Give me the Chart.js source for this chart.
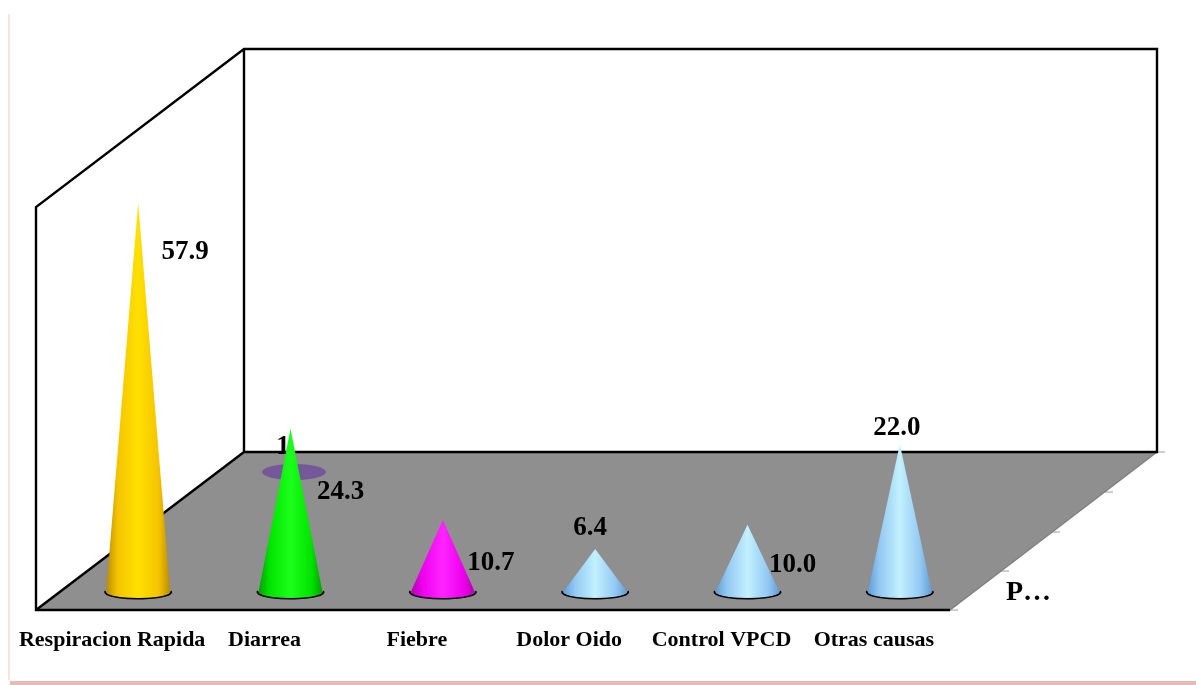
<!DOCTYPE html>
<html>
<head>
<meta charset="utf-8">
<title>Motivos de consulta</title>
<script src="https://cdn.jsdelivr.net/npm/chart.js@4"></script>
<style>
    html, body { margin: 0; padding: 0; background: #fff; overflow: hidden; }
    canvas { display: block; }
</style>
</head>
<body>
<canvas id="myChart" width="1196" height="685"></canvas>
<script>
const categories = ["Respiracion Rapida", "Diarrea", "Fiebre", "Dolor Oido", "Control VPCD", "Otras causas"];
const values = [57.9, 24.3, 10.7, 6.4, 10.0, 22.0];
const seriesName = "P…";

// edge / body / centre colour of each cone
const coneEdges = ["#b88c00", "#00a000", "#b000b0", "#5f9cd8", "#5f9cd8", "#5f9cd8"];
const coneBodies = ["#f5c400", "#00e400", "#ee00ee", "#93c8f2", "#93c8f2", "#93c8f2"];
const coneCentres = ["#ffe000", "#1cff1c", "#ff24ff", "#c2f0ff", "#c2f0ff", "#c2f0ff"];

// where each value label sits, measured from the cone's tip
const labelOffsets = [[47, 49], [50, 63], [48, 43], [-5, -21], [45, 40], [-3, -16]];

const serif = "'Liberation Serif', serif";

const ctx = document.getElementById("myChart").getContext("2d");

function polygon(c, pts) {
    c.beginPath();
    pts.forEach((p, i) => i ? c.lineTo(p[0], p[1]) : c.moveTo(p[0], p[1]));
    c.closePath();
}

// page border, walls and floor of the 3D box
const boxPlugin = {
    id: "box",
    beforeDatasetsDraw(chart) {
        const c = chart.ctx;
        c.save();
        c.fillStyle = "#f7e4e4";
        c.fillRect(8, 14, 2, 666);
        c.fillStyle = "#e8b9b9";
        c.fillRect(10, 681, 1186, 4);

        polygon(c, [[36, 610], [244, 452], [1157, 452], [950, 610]]);
        c.fillStyle = "#8f8f8f";
        c.fill();

        // faint ticks on the depth axis
        c.strokeStyle = "#9a9a9a";
        c.lineWidth = 1;
        [[1157, 452], [1105, 492], [1052, 532], [1001, 571], [950, 610]].forEach((p) => {
            c.beginPath();
            c.moveTo(p[0], p[1]);
            c.lineTo(p[0] + 8, p[1]);
            c.stroke();
        });
        c.strokeStyle = "#7f7f7f";
        c.lineWidth = 1.5;
        c.beginPath();
        c.moveTo(950, 610);
        c.lineTo(1157, 452);
        c.stroke();

        c.strokeStyle = "#000";
        c.lineWidth = 2.4;
        c.lineJoin = "miter";
        c.beginPath();
        c.moveTo(950, 610);
        c.lineTo(36, 610);
        c.lineTo(36, 207);
        c.lineTo(244, 49);
        c.lineTo(1157, 49);
        c.lineTo(1157, 452);
        c.lineTo(244, 452);
        c.lineTo(36, 610);
        c.moveTo(244, 49);
        c.lineTo(244, 452);
        c.stroke();

        // leftover marker and digit behind the second cone
        c.fillStyle = "#75589a";
        c.beginPath();
        c.ellipse(294, 472, 32, 8, 0, 0, Math.PI * 2);
        c.fill();
        c.fillStyle = "#000";
        c.font = "bold 27px " + serif;
        c.textAlign = "center";
        c.textBaseline = "middle";
        c.fillText("1", 283, 447);
        c.restore();
    }
};

// the bars are invisible, each cone is drawn on the bar's own x / y / base
const conePlugin = {
    id: "cones",
    afterDatasetsDraw(chart) {
        const c = chart.ctx;
        const halfWidth = 32;
        const ry = 6;
        chart.getDatasetMeta(0).data.forEach((bar, i) => {
            const x = bar.x, tip = bar.y, base = bar.base;
            c.save();

            // black rim shows just under the cone's foot
            c.beginPath();
            c.ellipse(x, base, halfWidth + 1, ry + 0.5, 0, -0.15, Math.PI + 0.15);
            c.strokeStyle = "#000";
            c.lineWidth = 2;
            c.stroke();

            const g = c.createLinearGradient(x - halfWidth, 0, x + halfWidth, 0);
            g.addColorStop(0, coneEdges[i]);
            g.addColorStop(0.18, coneBodies[i]);
            g.addColorStop(0.5, coneCentres[i]);
            g.addColorStop(0.82, coneBodies[i]);
            g.addColorStop(1, coneEdges[i]);
            c.beginPath();
            c.moveTo(x, tip);
            c.lineTo(x + halfWidth, base);
            c.ellipse(x, base, halfWidth, ry, 0, 0, Math.PI);
            c.closePath();
            c.fillStyle = g;
            c.fill();

            c.fillStyle = "#000";
            c.font = "bold 27px " + serif;
            c.textAlign = "center";
            c.textBaseline = "middle";
            c.fillText(values[i].toFixed(1), x + labelOffsets[i][0], tip + labelOffsets[i][1]);
            c.restore();
        });

        c.save();
        c.fillStyle = "#000";
        c.font = "bold 28px " + serif;
        c.textAlign = "left";
        c.textBaseline = "middle";
        c.fillText(seriesName, 1006, 593);
        c.restore();
    }
};

const data = {
    labels: categories,
    datasets: [
        {
            label: seriesName,
            data: values,
            backgroundColor: "rgba(0,0,0,0)",
            borderWidth: 0
        }
    ]
};

const config = {
    type: "bar",
    data: data,
    plugins: [boxPlugin, conePlugin],
    options: {
        responsive: false,
        animation: false,
        layout: { padding: { left: 62, right: 220, top: 54.4, bottom: 0 } },
        plugins: {
            legend: { display: false },
            tooltip: { enabled: false }
        },
        scales: {
            x: {
                afterFit: (scale) => { scale.height = 93; },
                grid: { display: false, drawTicks: false },
                border: { display: false },
                ticks: {
                    autoSkip: false,
                    maxRotation: 0,
                    padding: 35,
                    labelOffset: -26,
                    color: "#000",
                    font: { family: serif, size: 22, weight: "bold" }
                }
            },
            y: {
                display: false,
                min: 0,
                max: 80
            }
        }
    }
};

const myChart = new Chart(ctx, config);
</script>
</body>
</html>
